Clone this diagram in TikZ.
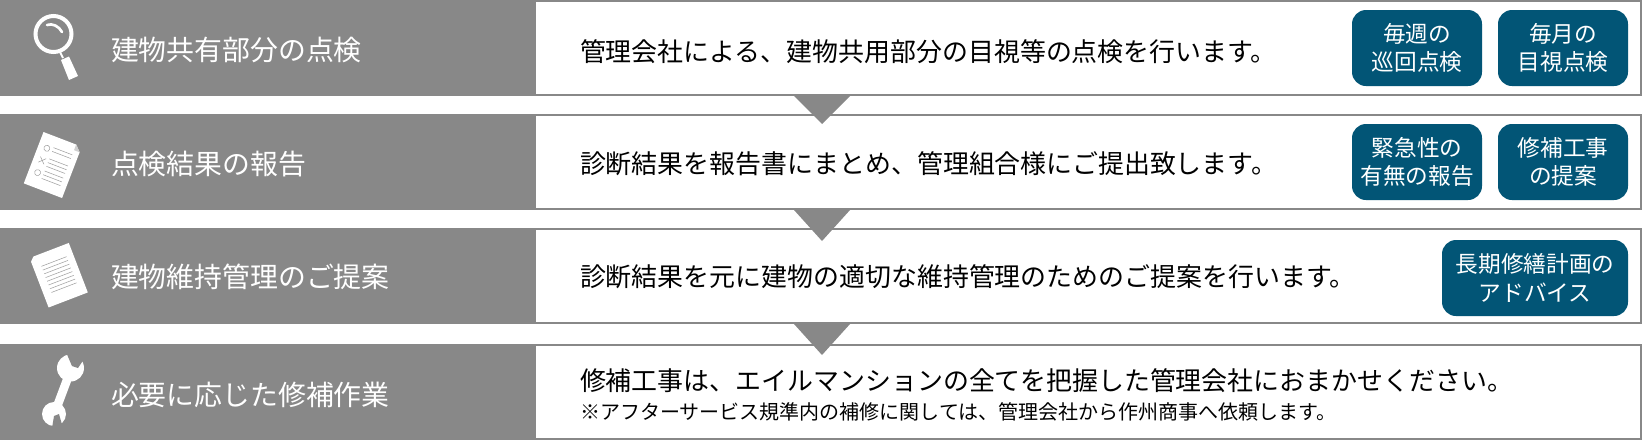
\documentclass[tikz,border=0pt]{standalone}
\usepackage{fontspec}
\setmainfont{Noto Sans CJK JP}
\definecolor{panelgray}{RGB}{136,136,136}
\definecolor{btnblue}{RGB}{2,85,118}
\tikzset{every picture/.style={line width=0.75pt},
  panel/.style={fill=panelgray,minimum width=402pt,minimum height=72pt,inner sep=0pt,outer sep=0pt,anchor=north west},
  frame/.style={draw=panelgray,fill=white,line width=1.5pt,minimum width=829.5pt,minimum height=70.5pt,inner sep=0pt,outer sep=0pt,anchor=north west},
  titletext/.style={text=white,anchor=west,inner sep=0pt,outer sep=0pt,font=\fontsize{20.9}{25}\selectfont},
  bodytext/.style={text=black,anchor=west,inner sep=0pt,outer sep=0pt,font=\fontsize{19.45}{24}\selectfont},
  smalltext/.style={text=black,anchor=west,inner sep=0pt,outer sep=0pt,font=\fontsize{15}{18}\selectfont},
  btn/.style={fill=btnblue,text=white,rounded corners=10.5pt,minimum width=97.5pt,minimum height=57pt,inner sep=0pt,outer sep=0pt,align=center,font=\fontsize{17}{21.5}\selectfont},
  drop/.style={fill=panelgray},
  paper/.style={fill=white},
  paperline/.style={draw=panelgray!80,line width=0.4pt}}
\begin{document}
\begin{tikzpicture}[x=0.75pt,y=0.75pt,yscale=-1,xscale=1]
\useasboundingbox (0,0) rectangle (1642,440);

%Shape: Left panels
\node (panelA) [panel] at (0,0) {};
\node (panelB) [panel] at (0,114) {};
\node (panelC) [panel] at (0,228) {};
\node (panelD) [panel] at (0,344) {};
%Shape: Right frames
\node (frameA) [frame] at (535,1) {};
\node (frameB) [frame] at (535,115) {};
\node (frameC) [frame] at (535,229) {};
\node (frameD) [frame] at (535,345) {};
%Shape: Triangles
\fill [drop] (794,96) -- (850,96) -- (822,124) -- cycle ;
\fill [drop] (794,210) -- (850,210) -- (822,241) -- cycle ;
\fill [drop] (794,324) -- (850,324) -- (822,355) -- cycle ;

% Text Node
\node (titleA) [titletext] at (111,50) {建物共有部分の点検};
\node (titleB) [titletext] at (111,164) {点検結果の報告};
\node (titleC) [titletext] at (111,277) {建物維持管理のご提案};
\node (titleD) [titletext] at (111,395) {必要に応じた修補作業};
% Text Node
\node (bodyA) [bodytext] at (580,52) {管理会社による、建物共用部分の目視等の点検を行います。};
\node (bodyB) [bodytext] at (580,164) {診断結果を報告書にまとめ、管理組合様にご提出致します。};
\node (bodyC) [bodytext] at (580,277) {診断結果を元に建物の適切な維持管理のためのご提案を行います。};
\node (bodyD) [bodytext] at (580,381) {修補工事は、エイルマンションの全てを把握した管理会社におまかせください。};
\node (noteD) [smalltext] at (580,412) {※アフターサービス規準内の補修に関しては、管理会社から作州商事へ依頼します。};
% Buttons
\node (btnAa) [btn] at (1417,48) {毎週の\\巡回点検};
\node (btnAb) [btn] at (1563,48) {毎月の\\目視点検};
\node (btnBa) [btn] at (1417,162) {緊急性の\\有無の報告};
\node (btnBb) [btn] at (1563,162) {修補工事\\の提案};
\node (btnC) [btn,minimum width=139.5pt] at (1535,278) {長期修繕計画の\\アドバイス};

%Icon: Magnifier
\draw [white,line width=3pt] (53.5,34) circle (18) ;
\draw [white,line width=2pt,line cap=round] (47,25) .. controls (52,23) and (59,26) .. (62,32) ;
\draw [white,line width=1.5pt] (60,52) -- (63,58) ;
\fill [white] (61,60) -- (69,56.5) -- (78,76) -- (69,80) -- cycle ;

%Icon: Report sheet
\begin{scope}[shift={(43.5,132)},rotate=21]
\fill [paper] (0,0) -- (35,0) -- (41,6) -- (41,55) -- (0,55) -- cycle ;
\fill [panelgray!40] (35,0) -- (41,6) -- (35,6) -- cycle ;
\draw [paperline] (9,14) circle (3) ;
\draw [paperline] (6,24) -- (12,30) (12,24) -- (6,30) ;
\draw [paperline] (9,40) circle (3) ;
\draw [paperline] (15,11) -- (35,11) (15,15) -- (35,15) (15,23) -- (35,23) (15,27) -- (35,27) (15,31) -- (35,31) (15,36) -- (35,36) (15,40) -- (35,40) (15,44) -- (35,44) ;
\end{scope}

%Icon: Proposal sheet
\begin{scope}[shift={(29.6,258)},rotate=-21]
\fill [paper] (4,0) -- (42,0) -- (42,53) -- (0,53) -- (0,4) -- cycle ;
\draw [paperline] (8,12) -- (35,12) (8,16) -- (35,16) (8,20) -- (35,20) (8,24) -- (35,24) (8,28) -- (35,28) (8,32) -- (35,32) (8,36) -- (35,36) (8,40) -- (35,40) ;
\end{scope}

%Icon: Wrench
\draw [white,line width=6.5pt] (70,372) -- (55,412) ;
\fill [white] (70.5,368) circle (13.5) ;
\fill [white] (54,414) circle (12) ;
\fill [panelgray] (66,352) -- (72,366) -- (78,368) -- (86,356) -- (80,350) -- cycle ;
\fill [panelgray] (52,428) -- (54,416) -- (59,414) -- (63,428) -- cycle ;

\end{tikzpicture}
\end{document}
